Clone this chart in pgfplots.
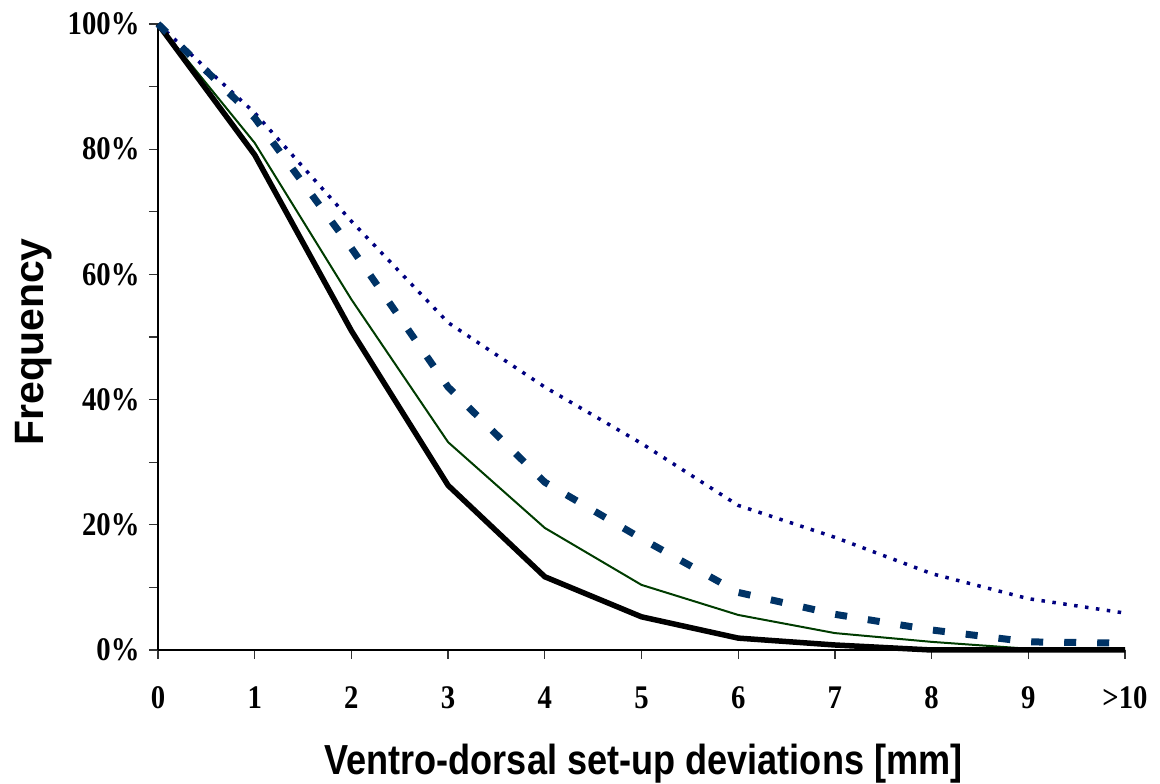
\documentclass[border=0pt]{standalone}
\usepackage{pgfplots}
\pgfplotsset{compat=1.18}
\usepackage{fontspec}
\setmainfont{Liberation Serif}
\newfontfamily\tickfont{Liberation Serif}[FakeStretch=0.87]
\newfontfamily\labfont{Liberation Sans}[FakeStretch=0.86]
\newfontfamily\ylabfont{Liberation Sans}
\definecolor{blackline}{RGB}{0,0,0}
\definecolor{greenline}{RGB}{0,60,0}
\definecolor{dashblue}{RGB}{0,51,102}
\definecolor{dotblue}{RGB}{0,0,128}
\begin{document}
\begin{tikzpicture}
\begin{axis}[
  scale only axis,
  width=967pt, height=626pt,
  xmin=0, xmax=10, ymin=0, ymax=100,
  clip=false,
  axis lines*=left,
  axis line style={black, line width=1.3pt},
  xtick={0,1,2,3,4,5,6,7,8,9,10},
  xticklabels={0,1,2,3,4,5,6,7,8,9,>10},
  ytick={0,20,40,60,80,100},
  yticklabels={0\%,20\%,40\%,60\%,80\%,100\%},
  minor ytick={10,30,50,70,90},
  tick align=outside,
  major tick length=9pt,
  minor tick length=9pt,
  every tick/.style={black!80, line width=1.3pt},
  xticklabel style={font=\tickfont\fontsize{33}{36}\selectfont\bfseries},
  yticklabel style={font=\tickfont\fontsize{33}{36}\selectfont\bfseries},
  xticklabel shift=24pt,
  yticklabel shift=6pt,
  xlabel={Ventro-dorsal set-up deviations [mm]},
  ylabel={Frequency},
  xlabel style={font=\labfont\fontsize{42}{46}\selectfont\bfseries, at={(axis description cs:0.502,-0.181)}, anchor=center},
  ylabel style={font=\ylabfont\fontsize{41}{44}\selectfont\bfseries, at={(axis description cs:-0.1285,0.492)}, anchor=center, rotate=0},
]
\coordinate (ll) at (rel axis cs:0,0);
\coordinate (ur) at (rel axis cs:1,1);
% dotted series
\addplot[dotblue, line width=3.5pt, dash pattern=on 3.5pt off 7.5pt] coordinates {
(0,100) (1,85.8) (2,68.5) (3,52.3) (4,42) (5,33) (6,23.1) (7,18) (8,12.2) (9,8.2) (10,5.9)};
% thin green
\addplot[greenline, line width=2pt] coordinates {
(0,100) (1,81) (2,56) (3,33.2) (4,19.5) (5,10.4) (6,5.6) (7,2.7) (8,1.3) (9,0.2) (10,0)};
% thick black
\addplot[blackline, line width=5.5pt] coordinates {
(0,100) (1,79.1) (2,51) (3,26.3) (4,11.7) (5,5.3) (6,1.9) (7,0.8) (8,0) (9,0) (10,0)};
% dashed blue
\addplot[dashblue, line width=7pt, dash pattern=on 12pt off 21pt] coordinates {
(0,100) (1,85) (2,64.2) (3,42) (4,26.8) (5,17.8) (6,9.2) (7,5.7) (8,3.2) (9,1.3) (10,1.1)};
\end{axis}
\pgfresetboundingbox
\path[use as bounding box] ([shift={(-158pt,-134pt)}]ll) rectangle ([shift={(35pt,24pt)}]ur);
\end{tikzpicture}
\end{document}
